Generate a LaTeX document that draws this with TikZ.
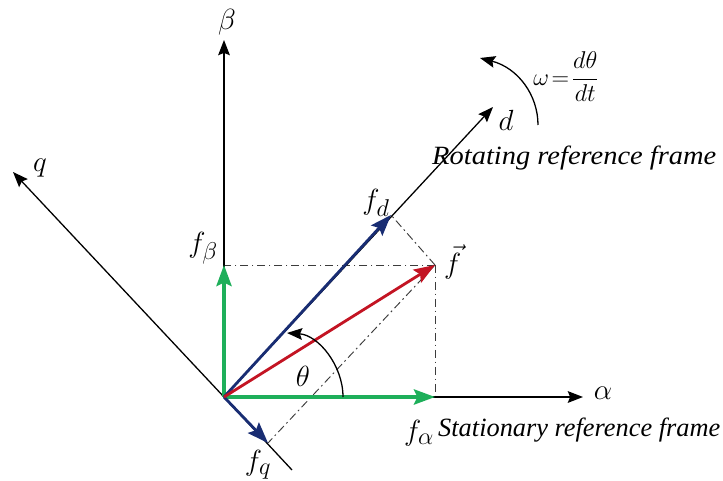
\documentclass[tikz,border=0pt]{standalone}
\usepackage{fontspec}
\setmainfont{Liberation Serif}
\usetikzlibrary{arrows.meta}
\definecolor{vgreen}{RGB}{30,175,90}
\definecolor{vblue}{RGB}{25,45,115}
\definecolor{vred}{RGB}{195,20,35}
\definecolor{projgray}{RGB}{60,60,60}
\begin{document}
\begin{tikzpicture}[x=0.03cm,y=-0.03cm,
  axisline/.style={line width=1.1pt, draw=black, -{Stealth[length=13pt,width=10pt,inset=2pt]}},
  plainaxis/.style={line width=1.1pt, draw=black},
  gvec/.style={line width=2.8pt, draw=vgreen, -{Stealth[length=18pt,width=13pt,inset=3pt]}},
  bvec/.style={line width=2.4pt, draw=vblue, -{Stealth[length=18pt,width=13pt,inset=3pt]}},
  rvec/.style={line width=2.4pt, draw=vred, -{Stealth[length=18pt,width=13pt,inset=3pt]}},
  proj/.style={line width=0.8pt, draw=projgray, dash pattern=on 7pt off 3pt on 1.5pt off 3pt},
  mlabel/.style={font=\fontsize{24.88}{30}\selectfont, inner sep=0pt},
  tlabel/.style={font=\fontsize{22.5}{26}\selectfont\itshape, inner sep=0pt},
  rotarrow/.style={line width=1.1pt, -{Stealth[length=13pt,width=10pt,inset=2pt]}}
]
\useasboundingbox (0,0) rectangle (723,481);
% points
\coordinate (O) at (224,397);
\coordinate (alphaTip) at (583,397);
\coordinate (betaTip) at (224,40);
\coordinate (dTip) at (493,107);
\coordinate (qTip) at (13,172);
\coordinate (qEnd) at (292,470);
\coordinate (fa) at (435,397);
\coordinate (fb) at (224,265);
\coordinate (f) at (435,265);
\coordinate (fd) at (391,215);
\coordinate (fq) at (268,443);
\coordinate (thA) at (343,397);
\coordinate (thB) at (287,333);
\coordinate (omA) at (538,125);
\coordinate (omB) at (480,58);
% projection lines
\draw[proj] (f) -- (fb);
\draw[proj] (f) -- (fa);
\draw[proj] (f) -- (fd);
\draw[proj] (f) -- (fq);
% axes
\draw[axisline] (O) -- (alphaTip);
\draw[axisline] (O) -- (betaTip);
\draw[axisline] (O) -- (dTip);
\draw[plainaxis] (qEnd) -- (O);
\draw[axisline] (O) -- (qTip);
% vectors
\draw[gvec] (O) -- (fa);
\draw[gvec] (O) -- (fb);
\draw[bvec] (O) -- (fd);
\draw[bvec] (O) -- (fq);
\draw[rvec] (O) -- (f);
% theta arc
\draw[rotarrow] (thA) .. controls (343,365) and (318,335) .. (thB);
% omega arc
\draw[rotarrow] (omA) .. controls (538,95) and (518,68) .. (omB);
% labels
\node[mlabel] (lalpha) at (603,393) {$\alpha$};
\node[mlabel] (lbeta) at (227,22) {$\beta$};
\node[mlabel] (lq) at (40,168) {$q$};
\node[mlabel] (ld) at (506,120) {$d$};
\node[mlabel] (lfb) at (203,248) {$f_\beta$};
\node[mlabel] (lfa) at (419,433) {$f_\alpha$};
\node[mlabel] (lfd) at (376,203) {$f_d$};
\node[mlabel] (lfq) at (258,465) {$f_q$};
\node[mlabel, anchor=west] (lf) at (444,262) {$\vec{f}$};
\node[mlabel] (lth) at (303,376) {$\theta$};
\node[font=\fontsize{22}{26}\selectfont, inner sep=0pt] (lom) at (566,77) {$\displaystyle \omega\!=\!\frac{d\theta}{dt}$};
\node[tlabel, anchor=west] (lrot) at (432,158) {\scalebox{1.08}[1]{Rotating reference frame}};
\node[tlabel, anchor=west] (lsta) at (438,430) {Stationary reference frame};
\end{tikzpicture}
\end{document}
